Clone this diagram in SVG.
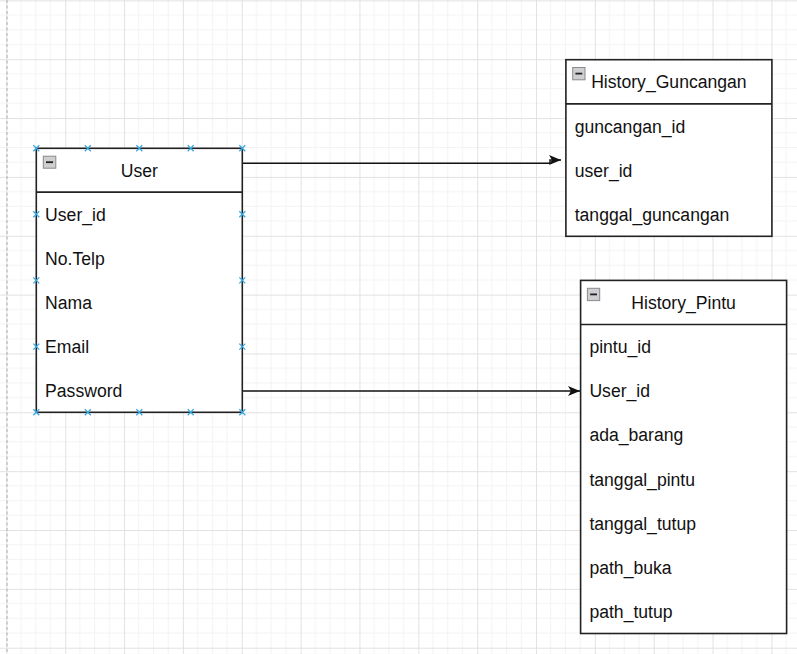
<svg xmlns="http://www.w3.org/2000/svg" width="797" height="654" viewBox="0 0 797 654">
  <style>
    .box { fill: #ffffff; stroke: #222222; stroke-width: 1.6; }
    .sep { stroke: #222222; stroke-width: 1.6; }
    .label { font-family: "Liberation Sans", Arial, Helvetica, sans-serif; font-size: 17.6px; fill: #111111; }
    .title { text-anchor: middle; }
    .tog { fill: #cfcfd2; stroke: #8a8a8e; stroke-width: 1; }
    .tog-bar { stroke: #222222; stroke-width: 1.8; }
    .edge { fill: none; stroke: #111111; stroke-width: 1.5; }
    .pt { fill: none; stroke: #3aa9e0; stroke-width: 1.3; }
  </style>
  <defs>
    <!-- 10-unit grid at 1.47x zoom, heavier line every 4 cells -->
    <pattern id="grid" patternUnits="userSpaceOnUse" x="6.36" y="0.36" width="58.85" height="58.85">
      <rect x="14.21" y="0" width="1" height="58.85" fill="#f3f3f3"/>
      <rect x="28.93" y="0" width="1" height="58.85" fill="#f3f3f3"/>
      <rect x="43.64" y="0" width="1" height="58.85" fill="#f3f3f3"/>
      <rect x="0" y="14.21" width="58.85" height="1" fill="#f3f3f3"/>
      <rect x="0" y="28.93" width="58.85" height="1" fill="#f3f3f3"/>
      <rect x="0" y="43.64" width="58.85" height="1" fill="#f3f3f3"/>
      <rect x="0" y="0" width="1" height="58.85" fill="#e2e2e2"/>
      <rect x="0" y="0" width="58.85" height="1" fill="#e2e2e2"/>
    </pattern>
    <marker id="arrow" viewBox="0 0 12 10" refX="12" refY="5" markerWidth="12" markerHeight="10" orient="auto" markerUnits="userSpaceOnUse">
      <path d="M0,0 L12,5 L0,10 L3,5 Z" fill="#111111"/>
    </marker>
    <path id="xpt" class="pt" d="M-3,-3 L3,3 M-3,3 L3,-3"/>
  </defs>

  <!-- canvas -->
  <rect x="0" y="0" width="797" height="654" fill="#ffffff"/>
  <rect x="0" y="0" width="797" height="654" fill="url(#grid)"/>
  <line x1="7" y1="0" x2="7" y2="654" stroke="#b8b8b8" stroke-width="1.2" stroke-dasharray="3 2.5"/>

  <!-- connectors -->
  <g id="connectors">
    <path class="edge" d="M242.3,163.3 H550 V160 H561" marker-end="url(#arrow)"/>
    <path class="edge" d="M242.3,391 H580" marker-end="url(#arrow)"/>
  </g>

  <!-- User table -->
  <g id="node-user">
    <rect class="box" x="36.3" y="148.3" width="206" height="264"/>
    <line class="sep" x1="36.3" y1="192.1" x2="242.3" y2="192.1"/>
    <rect class="tog" x="43.3" y="156.2" width="12.5" height="12"/>
    <line class="tog-bar" x1="46" y1="162.2" x2="53.1" y2="162.2"/>
    <text class="label title" x="139.3" y="176.7">User</text>
    <text class="label" x="45.1" y="220.8">User_id</text>
    <text class="label" x="45.1" y="264.9">No.Telp</text>
    <text class="label" x="45.1" y="309.1">Nama</text>
    <text class="label" x="45.1" y="353.2">Email</text>
    <text class="label" x="45.1" y="397.3">Password</text>
    <g id="user-points">
      <use href="#xpt" x="36.3" y="148.3"/>
      <use href="#xpt" x="87.8" y="148.3"/>
      <use href="#xpt" x="139.3" y="148.3"/>
      <use href="#xpt" x="190.7" y="148.3"/>
      <use href="#xpt" x="242.3" y="148.3"/>
      <use href="#xpt" x="36.3" y="412.3"/>
      <use href="#xpt" x="87.8" y="412.3"/>
      <use href="#xpt" x="139.3" y="412.3"/>
      <use href="#xpt" x="190.7" y="412.3"/>
      <use href="#xpt" x="242.3" y="412.3"/>
      <use href="#xpt" x="36.3" y="214.2"/>
      <use href="#xpt" x="36.3" y="280.4"/>
      <use href="#xpt" x="36.3" y="346.6"/>
      <use href="#xpt" x="242.3" y="214.2"/>
      <use href="#xpt" x="242.3" y="280.4"/>
      <use href="#xpt" x="242.3" y="346.6"/>
    </g>
  </g>

  <!-- History_Guncangan table -->
  <g id="node-history-guncangan">
    <rect class="box" x="565.9" y="59.7" width="206" height="176.6"/>
    <line class="sep" x1="565.9" y1="103.9" x2="771.9" y2="103.9"/>
    <rect class="tog" x="572.7" y="67.5" width="12.3" height="12.3"/>
    <line class="tog-bar" x1="575.4" y1="73.6" x2="582.3" y2="73.6"/>
    <text class="label title" x="668.9" y="88.4">History_Guncangan</text>
    <text class="label" x="574.7" y="132.5">guncangan_id</text>
    <text class="label" x="574.7" y="176.7">user_id</text>
    <text class="label" x="574.7" y="220.8">tanggal_guncangan</text>
  </g>

  <!-- History_Pintu table -->
  <g id="node-history-pintu">
    <rect class="box" x="580.6" y="280.4" width="206" height="353.1"/>
    <line class="sep" x1="580.6" y1="324.5" x2="786.6" y2="324.5"/>
    <rect class="tog" x="587.4" y="288.3" width="12.3" height="12.3"/>
    <line class="tog-bar" x1="590.1" y1="294.4" x2="597.0" y2="294.4"/>
    <text class="label title" x="683.6" y="309.1">History_Pintu</text>
    <text class="label" x="589.4" y="353.2">pintu_id</text>
    <text class="label" x="589.4" y="397.3">User_id</text>
    <text class="label" x="589.4" y="441.4">ada_barang</text>
    <text class="label" x="589.4" y="485.6">tanggal_pintu</text>
    <text class="label" x="589.4" y="529.7">tanggal_tutup</text>
    <text class="label" x="589.4" y="573.8">path_buka</text>
    <text class="label" x="589.4" y="618.0">path_tutup</text>
  </g>
</svg>
